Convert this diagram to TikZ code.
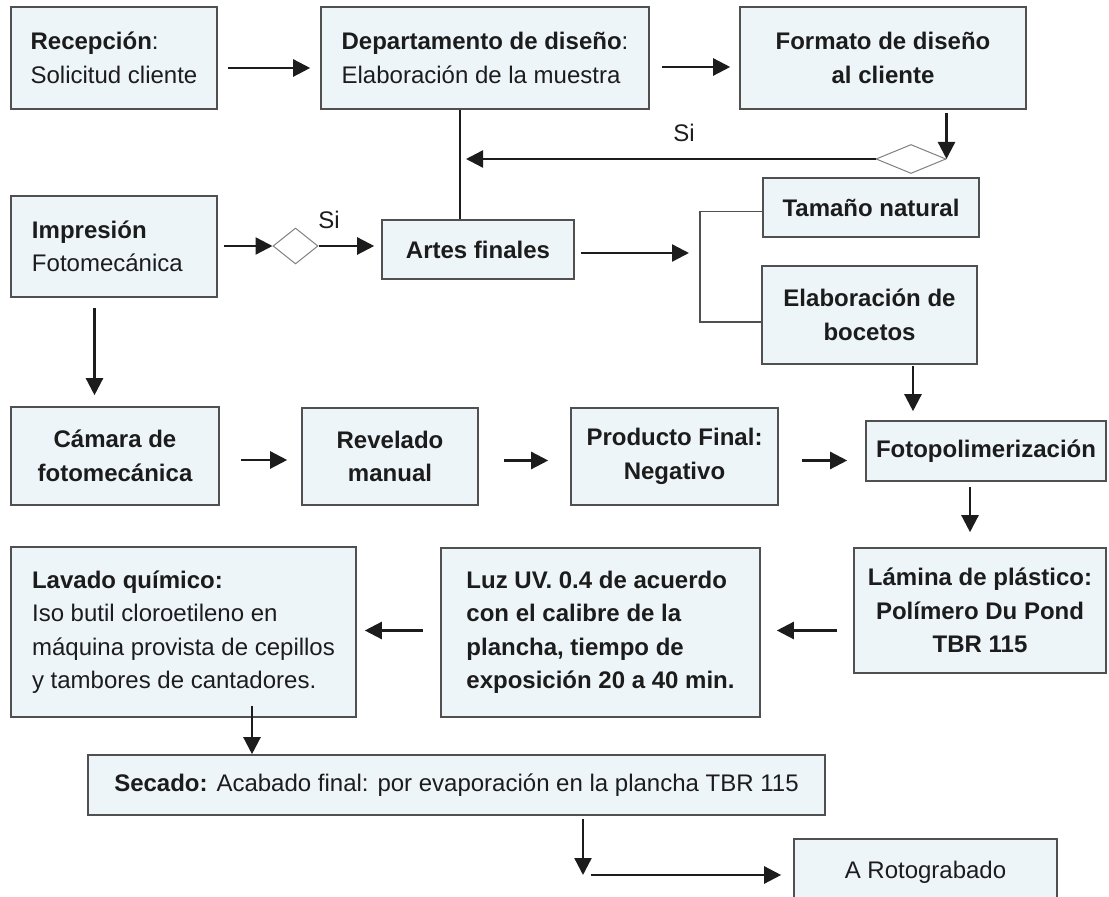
\documentclass[tikz,border=0pt]{standalone}
\usepackage{fontspec}
\setmainfont{Liberation Sans}
\usepackage{xcolor}
\usetikzlibrary{arrows.meta, shapes.geometric}
\definecolor{boxfill}{HTML}{EEF5F9}
\definecolor{boxline}{HTML}{505050}
\definecolor{ink}{HTML}{1C1C1C}

\begin{document}
\begin{tikzpicture}[x=0.5pt, y=-0.5pt,
  every node/.style={font=\fontsize{12}{16.75}\selectfont, text=ink},
  box/.style={draw=boxline, line width=0.8pt, fill=boxfill, inner sep=0pt},
  lbox/.style={box, align=left},
  cbox/.style={box, align=center},
  bbox/.style={cbox, font=\fontsize{12}{16.75}\selectfont\bfseries},
  arr/.style={draw=ink, line width=1.2pt, -{Triangle[length=8.5pt,width=8.5pt]}},
  dia/.style={diamond, draw=gray, line width=0.5pt, fill=white, inner sep=0pt}]
\useasboundingbox (0,0) rectangle (1109,897);

% first row
\node[lbox, minimum width=103pt, minimum height=51pt] (rec) at (114,58) {\textbf{Recepción}:\\Solicitud cliente};
\node[lbox, minimum width=164pt, minimum height=51pt] (dep) at (485,58) {\textbf{Departamento de diseño}:\\Elaboración de la muestra};
\node[bbox, minimum width=143pt, minimum height=51pt] (form) at (883,58) {Formato de diseño\\al cliente};
\node[dia, minimum width=35pt, minimum height=14.5pt] (d1) at (911,159) {};
\coordinate (vl) at (460,0);
\node (si1) at (684,133) {Si};

\draw[arr, shorten <=5pt, shorten >=5pt] ([yshift=-5pt]rec.east) -- ([yshift=-5pt]dep.west);
\draw[arr, shorten <=6pt, shorten >=4.5pt] ([yshift=-4.5pt]dep.east) -- ([yshift=-4.5pt]form.west);
\draw[arr, shorten <=1.5pt] (form.south -| d1.east) -- (d1.east);
\draw[arr, shorten >=3pt] (d1.west) -- (d1.west -| vl);

% second row
\node[lbox, text width=82pt, minimum width=103pt, minimum height=50.5pt] (imp) at (114,246.5) {\textbf{Impresión}\\Fotomecánica};
\node[dia, minimum width=22.5pt, minimum height=18pt] (d2) at (295.5,246) {};
\node (si2) at (329,220) {Si};
\node[bbox, minimum width=96pt, minimum height=29.5pt] (artes) at (478,249.5) {Artes finales};
\node[bbox, minimum width=108pt, minimum height=29.5pt] (tam) at (871,207.5) {Tamaño natural};
\node[bbox, minimum width=107.5pt, minimum height=49pt] (elab) at (869.5,315) {Elaboración de\\bocetos};
\coordinate (brk) at (700,253);

\draw[ink, line width=1.2pt] (dep.south -| vl) -- (artes.north -| vl);
\draw[arr, shorten <=3pt] (imp.east |- d2.west) -- (d2.west);
\draw[arr, shorten >=3.5pt] (d2.east) -- (d2.east -| artes.west);
\draw[arr, shorten <=3pt, shorten >=5.5pt] (artes.east |- brk) -- (brk);
\draw[boxline, line width=0.8pt] ([yshift=-2pt]tam.west) -| (brk) |- ([yshift=-3.5pt]elab.west);

% third row
\node[bbox, minimum width=104pt, minimum height=49pt] (cam) at (115,456) {Cámara de\\fotomecánica};
\node[bbox, minimum width=88pt, minimum height=48.5pt] (rev) at (390,456.5) {Revelado\\manual};
\node[bbox, minimum width=103.5pt, minimum height=48.5pt] (prod) at (674.5,456.5) {Producto Final:\\Negativo};
\node[bbox, minimum width=120pt, minimum height=30pt] (foto) at (986,451) {Fotopolimerización};

\draw[arr, shorten <=5pt, shorten >=5.5pt] ([xshift=-9.75pt]imp.south) -- ([xshift=-9.75pt]imp.south |- cam.north);
\draw[arr, shorten <=0.5pt, shorten >=4.5pt] ([xshift=21.75pt]elab.south) -- ([xshift=21.75pt]elab.south |- foto.north);
\draw[arr, shorten <=10.5pt, shorten >=7pt] ([yshift=-2pt]cam.east) -- ([yshift=-2pt]cam.east -| rev.west);
\draw[arr, shorten <=12.5pt, shorten >=11pt] ([yshift=-2pt]rev.east) -- ([yshift=-2pt]rev.east -| prod.west);
\draw[arr, shorten <=11.5pt, shorten >=9pt] ([yshift=-2pt]prod.east) -- ([yshift=-2pt]prod.east -| foto.west);

% fourth row
\node[bbox, minimum width=126pt, minimum height=62.5pt] (lam) at (980,610.5) {Lámina de plástico:\\Polímero Du Pond\\TBR 115};
\node[lbox, font=\fontsize{12}{16.75}\selectfont\bfseries, minimum width=159.5pt, minimum height=84.5pt] (luz) at (600.5,632.5) {Luz UV. 0.4 de acuerdo\\con el calibre de la\\plancha, tiempo de\\exposición 20 a 40 min.};
\node[lbox, minimum width=172.5pt, minimum height=85pt] (lav) at (183.5,632) {\textbf{Lavado químico:}\\Iso butil cloroetileno en\\máquina provista de cepillos\\y tambores de cantadores.};

\draw[arr, shorten <=2.5pt, shorten >=7.5pt] ([xshift=-8pt]foto.south) -- ([xshift=-8pt]foto.south |- lam.north);
\draw[arr, shorten <=8pt, shorten >=8pt] ([yshift=-10pt]lam.west) -- ([yshift=-10pt]lam.west -| luz.east);
\draw[arr, shorten <=8.5pt, shorten >=4pt] ([yshift=1pt]luz.west) -- ([yshift=1pt]luz.west -| lav.east);

% last rows
\node[cbox, minimum width=368.5pt, minimum height=30pt] (sec) at (456.5,785) {\textbf{Secado:} Acabado final: por evaporación en la plancha TBR 115};
\node[cbox, minimum width=131.5pt, minimum height=33pt] (rot) at (925.5,872) {A Rotograbado};
\coordinate (bend) at (583,875);

\draw[arr, shorten <=-6pt] ([xshift=34.25pt]lav.south) -- ([xshift=34.25pt]lav.south |- sec.north);
\draw[arr, shorten <=1.5pt] (sec.south -| bend) -- (bend);
\draw[arr, shorten <=4pt, shorten >=6pt] (bend) -- (bend -| rot.west);
\end{tikzpicture}
\end{document}
